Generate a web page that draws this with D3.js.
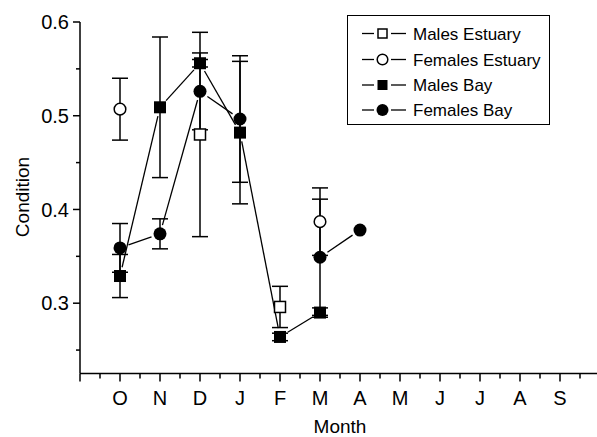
<!DOCTYPE html>
<html>
<head>
<meta charset="utf-8">
<script src="https://cdn.jsdelivr.net/npm/d3@7"></script>
<style>
  html, body { margin: 0; padding: 0; background: #fff; }
  svg { display: block; font-family: "Liberation Sans", Arial, sans-serif; }
</style>
</head>
<body>
<svg id="chart" width="597" height="437"></svg>
<script>
// ---- data ----
const months = ["O","N","D","J","F","M","A","M","J","J","A","S"];
const seriesNames = ["Males Estuary","Females Estuary","Males Bay","Females Bay"];
const malesEstuary      = [null, null, 0.480, null, 0.296, null, null];
const malesEstuaryErr   = [null, null, 0.109, null, 0.022, null, null];
const femalesEstuary    = [0.507, null, null, null, null, 0.387, null];
const femalesEstuaryErr = [0.033, null, null, null, null, 0.036, null];
const malesBay          = [0.329, 0.509, 0.556, 0.482, 0.264, 0.290, null];
const malesBayErr       = [0.023, 0.075, 0.004, 0.076, 0.004, 0.005, null];
const femalesBay        = [0.359, 0.374, 0.526, 0.4965, null, 0.349, 0.378];
const femalesBayErr     = [0.026, 0.016, 0.041, 0.0675, null, 0.062, 0];
const yMajorTicks = [0.3, 0.4, 0.5, 0.6];
const yMinorTicks = [0.25, 0.35, 0.45, 0.55];

const series = [
  {name: seriesNames[0], values: malesEstuary,   err: malesEstuaryErr,   shape: "square", fill: "#fff"},
  {name: seriesNames[1], values: femalesEstuary, err: femalesEstuaryErr, shape: "circle", fill: "#fff"},
  {name: seriesNames[2], values: malesBay,       err: malesBayErr,       shape: "square", fill: "#000"},
  {name: seriesNames[3], values: femalesBay,     err: femalesBayErr,     shape: "circle", fill: "#000"}
];

const svg = d3.select("#chart");
const x = d3.scaleLinear().domain([-1, 12]).range([80, 600]);
const y = d3.scaleLinear().domain([0.225, 0.6]).range([373.5, 22]);

// ---- axes ----
const axisG = svg.append("g");
// y axis
axisG.append("line").attr("x1", x(-1)).attr("x2", x(-1)).attr("y1", y(0.6)).attr("y2", y(0.225))
  .attr("stroke", "#000").attr("stroke-width", 1.5);
yMajorTicks.forEach(t => {
  axisG.append("line").attr("x1", x(-1) - 7).attr("x2", x(-1)).attr("y1", y(t)).attr("y2", y(t))
    .attr("stroke", "#000").attr("stroke-width", 1.5);
  axisG.append("text").attr("x", x(-1) - 11).attr("y", y(t)).attr("dy", "0.36em")
    .attr("text-anchor", "end").attr("font-size", 20).text(d3.format(".1f")(t));
});
yMinorTicks.forEach(t => {
  axisG.append("line").attr("x1", x(-1) - 4).attr("x2", x(-1)).attr("y1", y(t)).attr("y2", y(t))
    .attr("stroke", "#000").attr("stroke-width", 1.5);
});
// x axis
axisG.append("line").attr("x1", x(-1)).attr("x2", x(12)).attr("y1", y(0.225)).attr("y2", y(0.225))
  .attr("stroke", "#000").attr("stroke-width", 1.5);
d3.range(-1, 12.01, 1).forEach(i => {
  axisG.append("line").attr("x1", x(i)).attr("x2", x(i)).attr("y1", y(0.225)).attr("y2", y(0.225) + 8)
    .attr("stroke", "#000").attr("stroke-width", 1.5);
});
d3.range(-0.5, 12, 1).forEach(i => {
  axisG.append("line").attr("x1", x(i)).attr("x2", x(i)).attr("y1", y(0.225)).attr("y2", y(0.225) + 5)
    .attr("stroke", "#000").attr("stroke-width", 1.5);
});
months.forEach((m, i) => {
  axisG.append("text").attr("x", x(i)).attr("y", 405).attr("text-anchor", "middle")
    .attr("font-size", 20).text(m);
});
axisG.append("text").attr("x", 340).attr("y", 433).attr("text-anchor", "middle")
  .attr("font-size", 19).text("Month");
axisG.append("text").attr("transform", "translate(29,197) rotate(-90)").attr("text-anchor", "middle")
  .attr("font-size", 19).text("Condition");

// ---- error bars ----
const eg = svg.append("g").attr("stroke", "#000").attr("stroke-width", 1.5);
series.forEach(s => {
  s.values.forEach((v, i) => {
    const e = s.err[i];
    if (v == null || !e) return;
    eg.append("line").attr("x1", x(i)).attr("x2", x(i)).attr("y1", y(v - e)).attr("y2", y(v + e));
    [v - e, v + e].forEach(c => {
      eg.append("line").attr("x1", x(i) - 8).attr("x2", x(i) + 8).attr("y1", y(c)).attr("y2", y(c));
    });
  });
});

// ---- connecting lines (shortened around markers) ----
const lg = svg.append("g").attr("stroke", "#000").attr("stroke-width", 1.3);
const gap = 9;
series.forEach(s => {
  for (let i = 0; i < s.values.length - 1; i++) {
    const a = s.values[i], b = s.values[i + 1];
    if (a == null || b == null) continue;
    const x1 = x(i), y1 = y(a), x2 = x(i + 1), y2 = y(b);
    const d = Math.hypot(x2 - x1, y2 - y1), ux = (x2 - x1) / d, uy = (y2 - y1) / d;
    lg.append("line").attr("x1", x1 + ux * gap).attr("y1", y1 + uy * gap)
      .attr("x2", x2 - ux * gap).attr("y2", y2 - uy * gap);
  }
});

// ---- markers ----
function drawMarker(g, shape, fill, cx, cy, size) {
  if (shape === "circle") {
    g.append("circle").attr("cx", cx).attr("cy", cy).attr("r", fill === "#fff" ? size / 2 - 0.7 : size / 2)
      .attr("fill", fill).attr("stroke", "#000").attr("stroke-width", fill === "#fff" ? 1.5 : 0);
  } else {
    const h = fill === "#fff" ? size / 2 - 1 : size / 2 - 0.5;
    g.append("rect").attr("x", cx - h).attr("y", cy - h).attr("width", 2 * h).attr("height", 2 * h)
      .attr("fill", fill).attr("stroke", "#000").attr("stroke-width", fill === "#fff" ? 1.5 : 0);
  }
}
const mg = svg.append("g");
series.forEach(s => {
  s.values.forEach((v, i) => {
    if (v == null) return;
    drawMarker(mg, s.shape, s.fill, x(i), y(v), 13);
  });
});

// ---- legend ----
const leg = svg.append("g");
leg.append("rect").attr("x", 347.5).attr("y", 15.5).attr("width", 202).attr("height", 109)
  .attr("fill", "#fff").attr("stroke", "#000").attr("stroke-width", 1);
const legY = [33.5, 59.5, 85, 110];
series.forEach((s, k) => {
  const cy = legY[k];
  leg.append("line").attr("x1", 362).attr("x2", 374).attr("y1", cy).attr("y2", cy)
    .attr("stroke", "#000").attr("stroke-width", 1.3);
  leg.append("line").attr("x1", 391).attr("x2", 406).attr("y1", cy).attr("y2", cy)
    .attr("stroke", "#000").attr("stroke-width", 1.3);
  drawMarker(leg, s.shape, s.fill, 382.5, cy, s.shape === "circle" ? 12 : 11);
  leg.append("text").attr("x", 413).attr("y", cy).attr("dy", "0.36em").attr("font-size", 17).text(s.name);
});
</script>
</body>
</html>
